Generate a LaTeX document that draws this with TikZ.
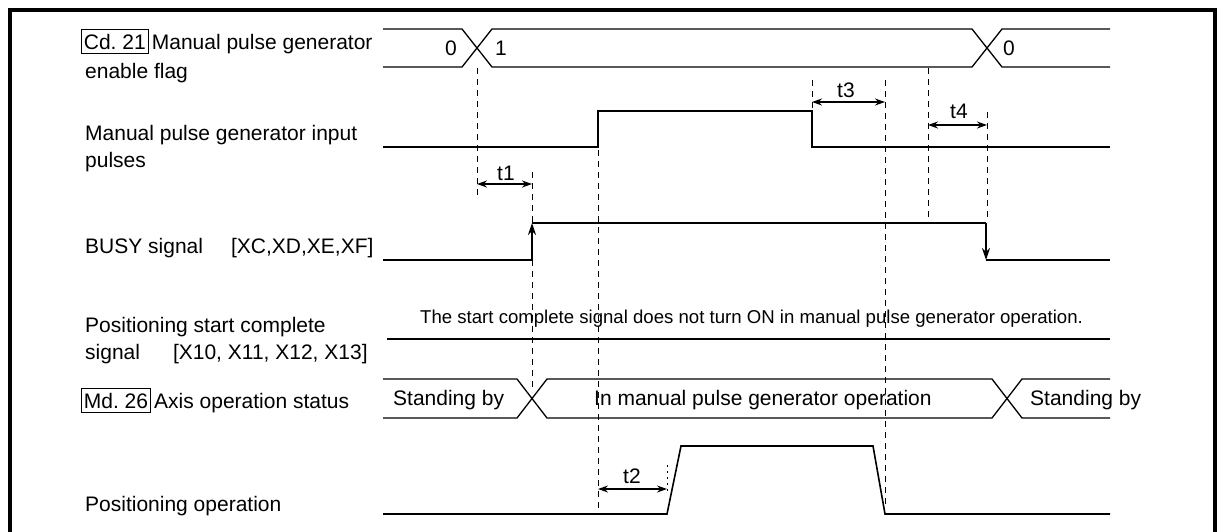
\documentclass[tikz,border=0pt]{standalone}
\usepackage{fontspec}
\setmainfont{Liberation Sans}
\usetikzlibrary{arrows.meta}
\begin{document}
\begin{tikzpicture}[x=1pt,y=-1pt,
  txt/.style={font=\fontsize{21}{25}\selectfont, inner sep=0pt, anchor=base west},
  smalltxt/.style={txt, font=\fontsize{18.6}{22}\selectfont},
  tag/.style={txt, draw, line width=0.8pt, inner xsep=2.5pt, inner ysep=4pt},
  frameline/.style={line width=3.5pt},
  sig/.style={line width=2pt},
  bus/.style={line width=1.3pt},
  guide/.style={line width=1pt, dash pattern=on 6pt off 5pt},
  dotguide/.style={line width=0.8pt, dash pattern=on 2pt off 4pt},
  dim/.style={line width=1.3pt, {Stealth[length=10pt,width=7pt]}-{Stealth[length=10pt,width=7pt]}},
  edgearrow/.style={line width=2pt, -{Stealth[length=12pt,width=8pt]}}]
\useasboundingbox (0,0) rectangle (1217,531);
% frame
\draw[frameline] (10,540) -- (10,10) -- (1215,10) -- (1215,540);

% ---------- left labels ----------
\node[tag] (cd) at (81,49) {Cd.~21};
\node[txt] (cdtxt) at ([xshift=3pt]cd.base east) {Manual pulse generator};
\node[txt] (cdtxt2) at (85,78) {enable flag};
\node[txt] (inlbl) at (85,140) {Manual pulse generator input};
\node[txt] (inlbl2) at (85,167) {pulses};
\node[txt] (busylbl) at (85,253) {BUSY signal\hspace{28pt}[XC,XD,XE,XF]};
\node[txt] (pslbl) at (85,332) {Positioning start complete};
\node[txt] (pslbl2) at (85,359) {signal\hspace{33pt}[X10, X11, X12, X13]};
\node[tag] (md) at (81,408) {Md.~26};
\node[txt] (mdtxt) at ([xshift=3pt]md.base east) {Axis operation status};
\node[txt] (poslbl) at (85,511) {Positioning operation};

% ---------- Cd.21 row ----------
\draw[bus] (383,29) -- (462,29) -- (492,67) -- (972,67) -- (1002,29) -- (1110,29);
\draw[bus] (383,67) -- (462,67) -- (492,29) -- (972,29) -- (1002,67) -- (1110,67);
\node[txt] (v0) at (445,55) {0};
\node[txt] (v1) at (495,55) {1};
\node[txt] (v2) at (1003,55) {0};

% ---------- input pulses ----------
\draw[sig] (383,147) -- (598,147) -- (598,111) -- (812,111) -- (812,147) -- (1110,147);

% ---------- BUSY ----------
\draw[bus] (383,260) -- (532,260);
\draw[edgearrow] (532,260) -- (532,223);
\draw[sig] (532,223) -- (986,223);
\draw[edgearrow] (986,223) -- (986,260);
\draw[sig] (986,260) -- (1110,260);

% ---------- start complete ----------
\node[smalltxt] (note) at (420,323) {The start complete signal does not turn ON in manual pulse generator operation.};
\draw[sig] (387,339) -- (1110,339);

% ---------- Md.26 row ----------
\draw[bus] (383,379) -- (517,379) -- (547,418) -- (992,418) -- (1022,379) -- (1110,379);
\draw[bus] (383,418) -- (517,418) -- (547,379) -- (992,379) -- (1022,418) -- (1110,418);
\node[txt] (sb1) at (393,405) {Standing by};
\node[txt] (inop) at (594,405) {In manual pulse generator operation};
\node[txt] (sb2) at (1030,405) {Standing by};

% ---------- positioning operation ----------
\draw[line width=1.6pt] (383,514) -- (667,514) -- (681,446) -- (873,446) -- (885,514) -- (1110,514);

% ---------- guides ----------
\coordinate (t1a) at (477,184);
\coordinate (t1b) at (532,184);
\coordinate (t2a) at (598,489);
\coordinate (t2b) at (667,489);
\coordinate (t3a) at (812,102);
\coordinate (t3b) at (885,102);
\coordinate (t4a) at (928,125);
\coordinate (t4b) at (987,125);

\draw[guide] (477,68) -- (477,198);
\draw[guide] (532,172) -- (532,392);
\draw[guide] (598,150) -- (598,510);
\draw[dotguide] (667,465) -- (667,492);
\draw[guide] (812,80) -- (812,110);
\draw[guide] (885,80) -- (885,507);
\draw[guide] (928,68) -- (928,222);
\draw[guide] (987,112) -- (987,222);

% ---------- dimensions ----------
\draw[dim] (t1a) -- (t1b);
\node[txt] (t1) at (497,180) {t1};
\draw[dim] (t2a) -- (t2b);
\node[txt] (t2) at (623,483) {t2};
\draw[dim] (t3a) -- (t3b);
\node[txt] (t3) at (837,97) {t3};
\draw[dim] (t4a) -- (t4b);
\node[txt] (t4) at (950,118) {t4};
\end{tikzpicture}
\end{document}
